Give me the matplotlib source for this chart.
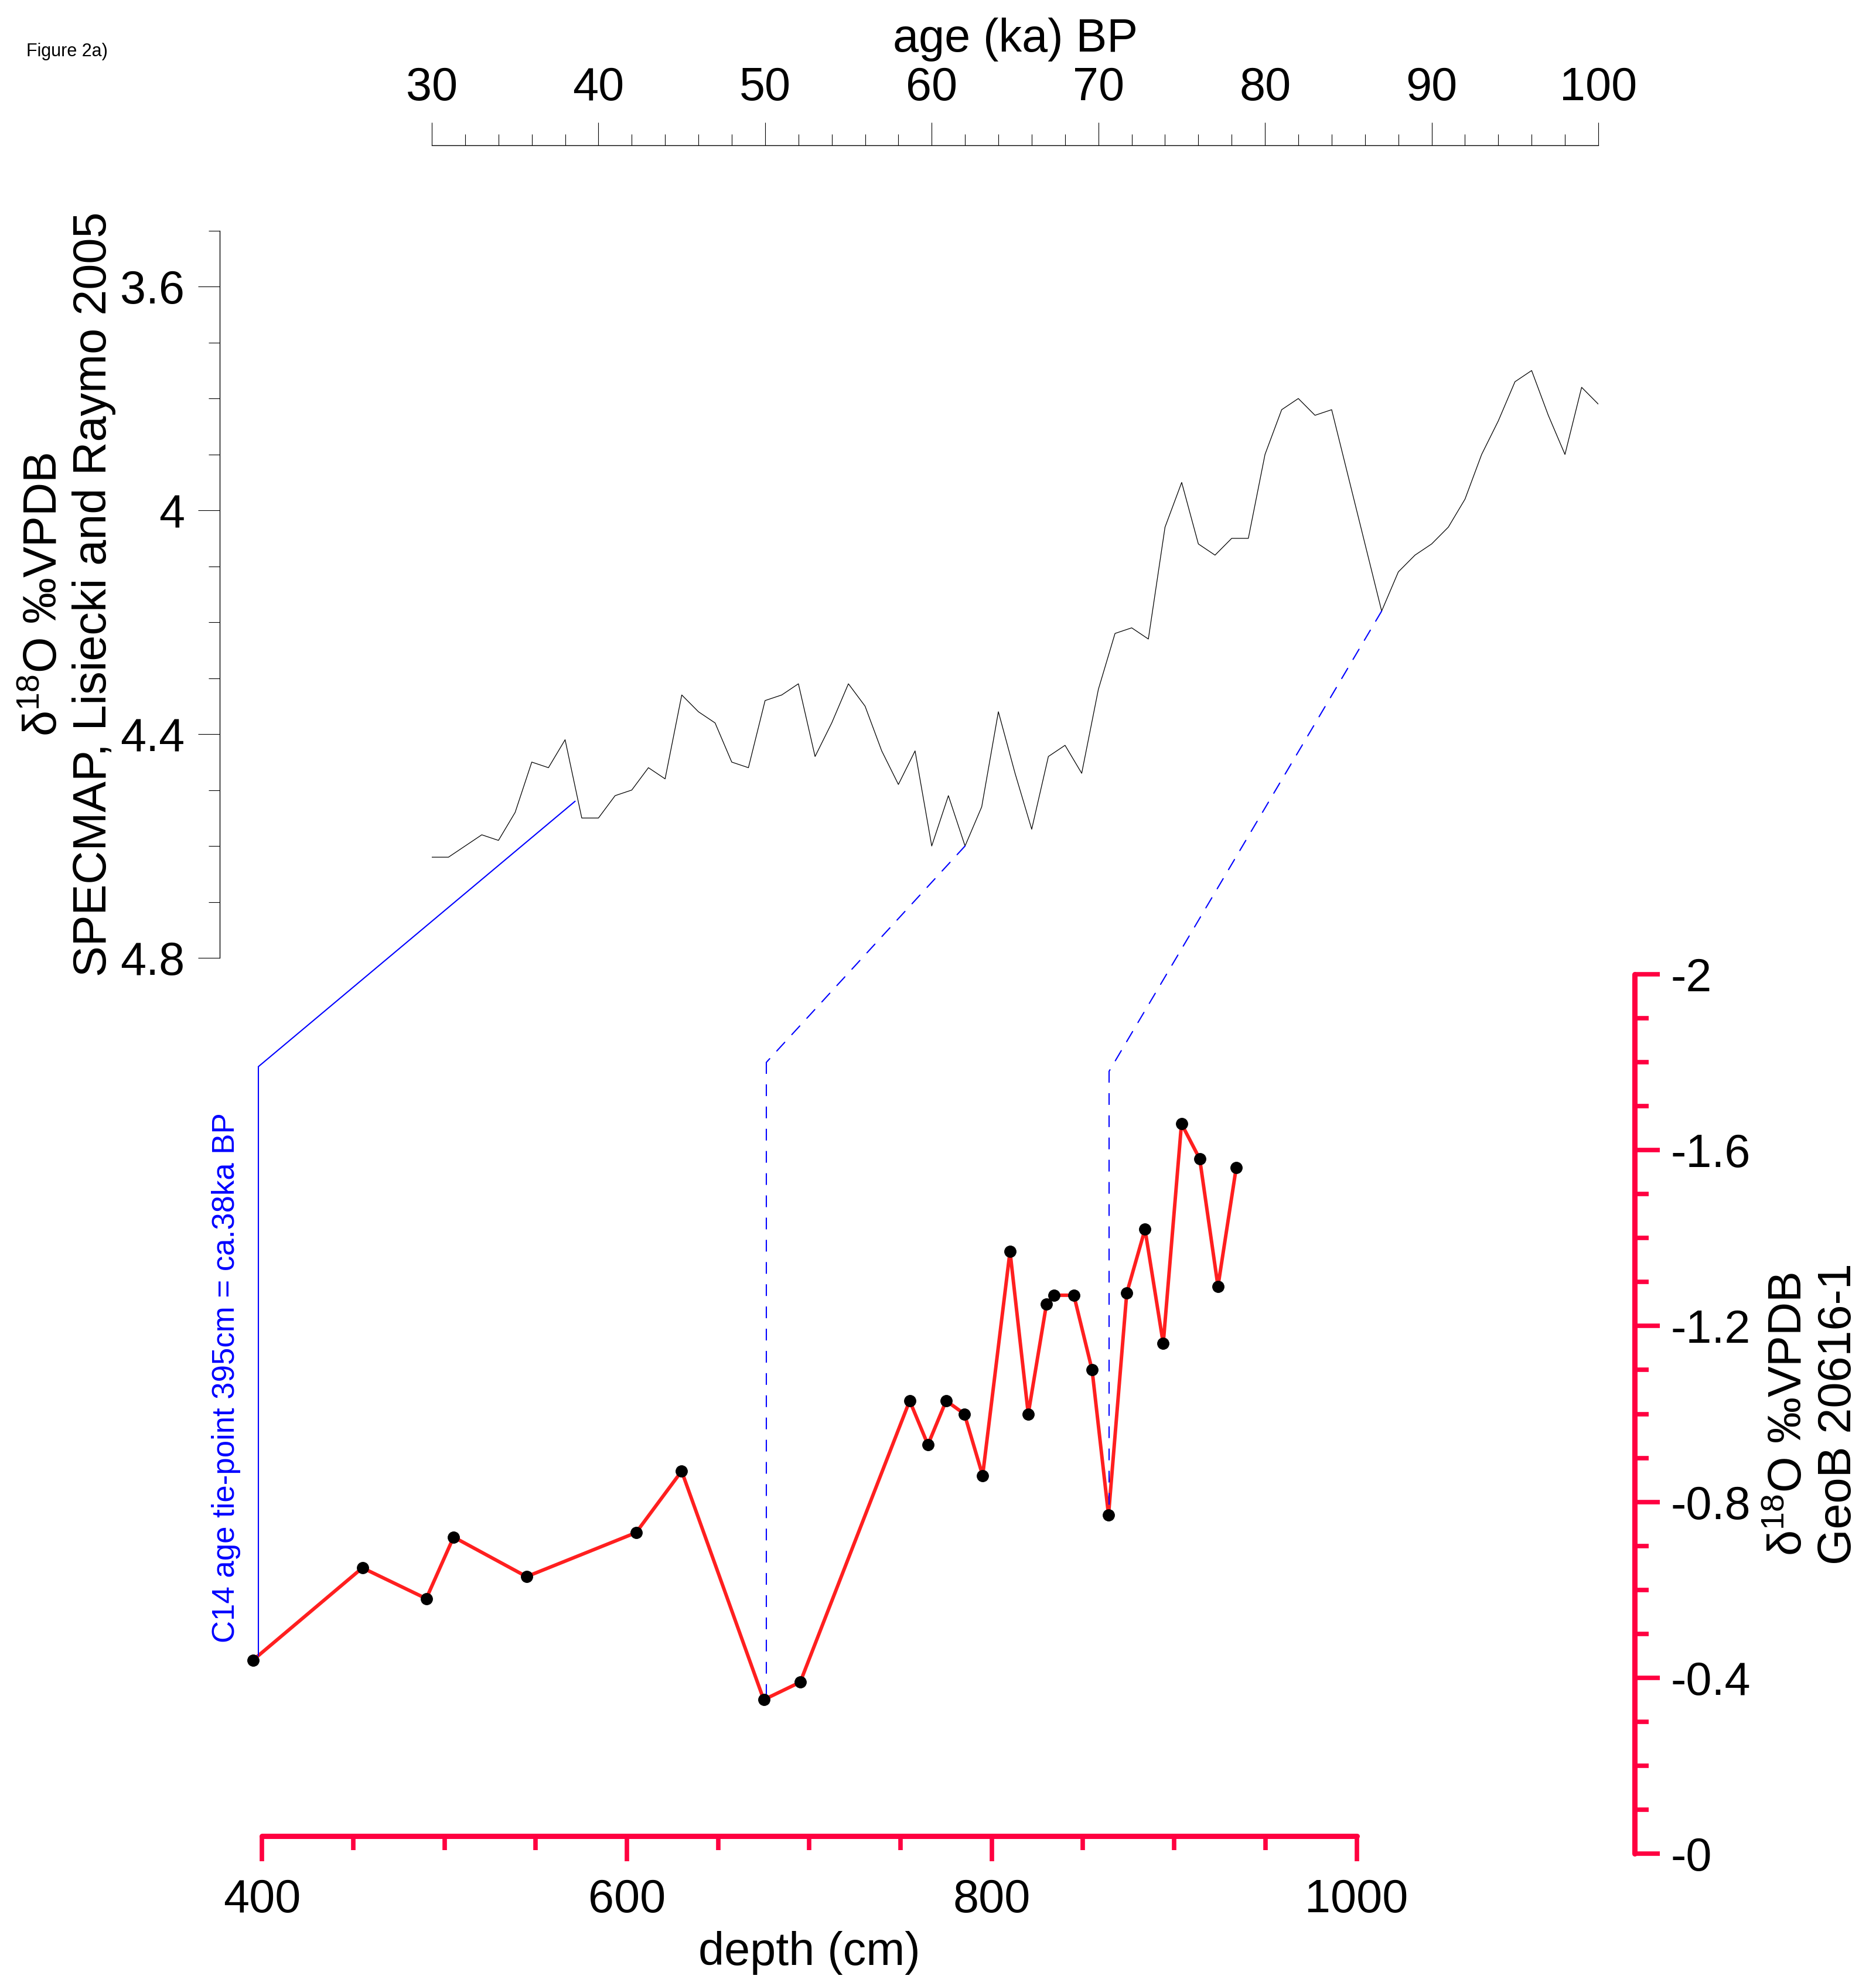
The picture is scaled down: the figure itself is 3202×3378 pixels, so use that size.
import numpy as np
import matplotlib
matplotlib.use("Agg")
import matplotlib.pyplot as plt
from matplotlib.patches import ConnectionPatch
from matplotlib.ticker import FixedLocator, FixedFormatter, MultipleLocator

plt.rcParams['font.family'] = ['Liberation Sans', 'DejaVu Sans']
plt.rcParams['mathtext.fontset'] = 'custom'
plt.rcParams['mathtext.rm'] = 'Liberation Sans'
plt.rcParams['mathtext.it'] = 'Liberation Sans:italic'
plt.rcParams['mathtext.bf'] = 'Liberation Sans:bold'

# SPECMAP stack (Lisiecki & Raymo 2005), age in ka BP
spec_age = [30, 31, 32, 33, 34, 35, 36, 37, 38, 39, 40, 41, 42, 43, 44, 45, 46, 47, 48, 49,
            50, 51, 52, 53, 54, 55, 56, 57, 58, 59, 60, 61, 62, 63, 64, 65, 66, 67, 68, 69,
            70, 71, 72, 73, 74, 75, 76, 77, 78, 79, 80, 81, 82, 83, 84, 85, 86, 87, 88, 89,
            90, 91, 92, 93, 94, 95, 96, 97, 98, 99, 100]
spec_d18o = [4.62, 4.62, 4.60, 4.58, 4.59, 4.54, 4.45, 4.46, 4.41, 4.55, 4.55, 4.51, 4.50, 4.46,
             4.48, 4.33, 4.36, 4.38, 4.45, 4.46, 4.34, 4.33, 4.31, 4.44, 4.38, 4.31, 4.35, 4.43,
             4.49, 4.43, 4.60, 4.51, 4.60, 4.53, 4.36, 4.47, 4.57, 4.44, 4.42, 4.47, 4.32, 4.22,
             4.21, 4.23, 4.03, 3.95, 4.06, 4.08, 4.05, 4.05, 3.90, 3.82, 3.80, 3.83, 3.82, 3.94,
             4.06, 4.18, 4.11, 4.08, 4.06, 4.03, 3.98, 3.90, 3.84, 3.77, 3.75, 3.83, 3.90, 3.78,
             3.81]

# GeoB 20616-1 record
core_depth = [395, 455, 490, 505, 545, 605, 630, 675, 695, 755, 765, 775, 785, 795, 810, 820,
              830, 834, 845, 855, 864, 874, 884, 894, 904, 914, 924, 934]
core_d18o = [-0.44, -0.65, -0.58, -0.72, -0.63, -0.73, -0.87, -0.35, -0.39, -1.03, -0.93, -1.03,
             -1.00, -0.86, -1.37, -1.00, -1.25, -1.27, -1.27, -1.10, -0.77, -1.275, -1.42, -1.16,
             -1.66, -1.58, -1.29, -1.56]

# tie points between the two records
tie_age = [38.6, 62, 87]
tie_spec = [4.52, 4.60, 4.18]
tie_depth = [398, 676.5, 864.4]
tie_corner = [-1.79, -1.80, -1.78]
tie_end = [-0.45, -0.35, -0.77]
tie_dashed = [False, True, True]

age_ticks = [30, 40, 50, 60, 70, 80, 90, 100]
spec_ticks = [3.6, 4.0, 4.4, 4.8]
spec_labels = ['3.6', '4', '4.4', '4.8']
depth_ticks = [400, 600, 800, 1000]
core_ticks = [-2, -1.6, -1.2, -0.8, -0.4, 0]
core_labels = ['-2', '-1.6', '-1.2', '-0.8', '-0.4', '-0']

W, H = 3202, 3378
fig = plt.figure(figsize=(W / 100, H / 100), dpi=100)
FS = 57
PINK = '#ff0040'


def fx(px):
    return px / W


def fy(py):
    return 1 - py / H


# ---- upper panel: SPECMAP vs age
up_l, up_r, up_t, up_b = 737, 2728, 393.8, 1635
ax_up = fig.add_axes([fx(up_l), fy(up_b), (up_r - up_l) / W, (up_b - up_t) / H])
ax_up.set_xlim(30, 100)
ax_up.set_ylim(4.8, 3.5)
ax_up.plot(spec_age, spec_d18o, color='black', lw=0.9)

ax_up.spines['right'].set_visible(False)
ax_up.spines['bottom'].set_visible(False)
ax_up.spines['left'].set_position(('axes', (375 - up_l) / (up_r - up_l)))
ax_up.spines['top'].set_position(('axes', 1 + (up_t - 248) / (up_b - up_t)))
for s in ['left', 'top']:
    ax_up.spines[s].set_linewidth(1.0)

ax_up.xaxis.set_ticks_position('top')
ax_up.xaxis.set_label_position('top')
ax_up.xaxis.set_major_locator(FixedLocator(age_ticks))
ax_up.xaxis.set_minor_locator(MultipleLocator(2))
ax_up.yaxis.set_major_locator(FixedLocator(spec_ticks))
ax_up.yaxis.set_major_formatter(FixedFormatter(spec_labels))
ax_up.yaxis.set_minor_locator(MultipleLocator(0.1))
ax_up.tick_params(axis='x', which='major', length=28, width=0.8, pad=15, labelsize=FS)
ax_up.tick_params(axis='x', which='minor', length=14, width=0.8)
ax_up.tick_params(axis='y', which='major', length=27, width=0.8, pad=16, labelsize=FS)
ax_up.tick_params(axis='y', which='minor', length=14, width=0.8)
ax_up.set_xlabel('age (ka) BP', fontsize=FS, labelpad=18)
ax_up.set_ylabel('δ$^{18}$O ‰VPDB\nSPECMAP, Lisiecki and Raymo 2005', fontsize=FS,
                 labelpad=5, linespacing=1.15)

# ---- lower panel: GeoB core vs depth
lo_t, lo_b = 1663, 3164
px_cm = (2315.5 - 447.3) / 600
x0 = 400 - (447.3 - 322.8) / px_cm
x1 = 1000 + (2790 - 2315.5) / px_cm
lo_l = 447.3 - (400 - x0) * px_cm
ax_low = fig.add_axes([fx(lo_l), fy(lo_b), (2790 - lo_l) / W, (lo_b - lo_t) / H])
ax_low.patch.set_alpha(0)
ax_low.set_xlim(x0, x1)
ax_low.set_ylim(0, -2)
ax_low.plot(core_depth, core_d18o, color='#ff1f1f', lw=4.3, zorder=2, clip_on=False)
ax_low.plot(core_depth, core_d18o, 'o', color='black', ms=14, zorder=4, clip_on=False)

ax_low.spines['left'].set_visible(False)
ax_low.spines['top'].set_visible(False)
ax_low.spines['bottom'].set_position(('data', -0.04))
ax_low.spines['bottom'].set_bounds(400, 1000)
ax_low.spines['right'].set_bounds(-2, 0)
for s in ['bottom', 'right']:
    ax_low.spines[s].set_color(PINK)
    ax_low.spines[s].set_linewidth(6.5)
    ax_low.spines[s].set_capstyle('round')

ax_low.xaxis.set_major_locator(FixedLocator(depth_ticks))
ax_low.xaxis.set_minor_locator(FixedLocator(list(range(450, 1000, 50))))
ax_low.yaxis.tick_right()
ax_low.yaxis.set_label_position('right')
ax_low.yaxis.set_major_locator(FixedLocator(core_ticks))
ax_low.yaxis.set_major_formatter(FixedFormatter(core_labels))
ax_low.yaxis.set_minor_locator(MultipleLocator(0.1))
ax_low.tick_params(axis='x', which='major', length=31, width=5.5, color=PINK, pad=21, labelsize=FS)
ax_low.tick_params(axis='x', which='minor', length=17, width=5.5, color=PINK)
ax_low.tick_params(axis='y', which='major', length=31, width=5.5, color=PINK, pad=13, labelsize=FS)
ax_low.tick_params(axis='y', which='minor', length=17, width=5.5, color=PINK)
ax_low.set_xlabel('depth (cm)', fontsize=FS, labelpad=11)
ax_low.xaxis.label.set_x((700 - x0) / (x1 - x0))
ax_low.set_ylabel('δ$^{18}$O ‰VPDB\nGeoB 20616-1', fontsize=FS, rotation=90,
                  labelpad=21, linespacing=1.15)

# ---- tie lines
for a, v, d, c, e, dashed in zip(tie_age, tie_spec, tie_depth, tie_corner, tie_end, tie_dashed):
    ls = (0, (9.6, 8.6)) if dashed else '-'
    con = ConnectionPatch(xyA=(a, v), coordsA=ax_up.transData, xyB=(d, c),
                          coordsB=ax_low.transData, color='#0000ff', lw=1.5, linestyle=ls)
    fig.add_artist(con)
    ax_low.plot([d, d], [c, e], color='#0000ff', lw=1.5, linestyle=ls, zorder=3, clip_on=False)

ax_low.text(380.3, -1.083, 'C14 age tie-point 395cm = ca.38ka BP', rotation=90,
            color='#0000ff', fontsize=38, ha='center', va='center')

fig.text(fx(45), fy(88), 'Figure 2a)', fontsize=22, ha='left', va='center')

fig.savefig('out.png', dpi=100)
